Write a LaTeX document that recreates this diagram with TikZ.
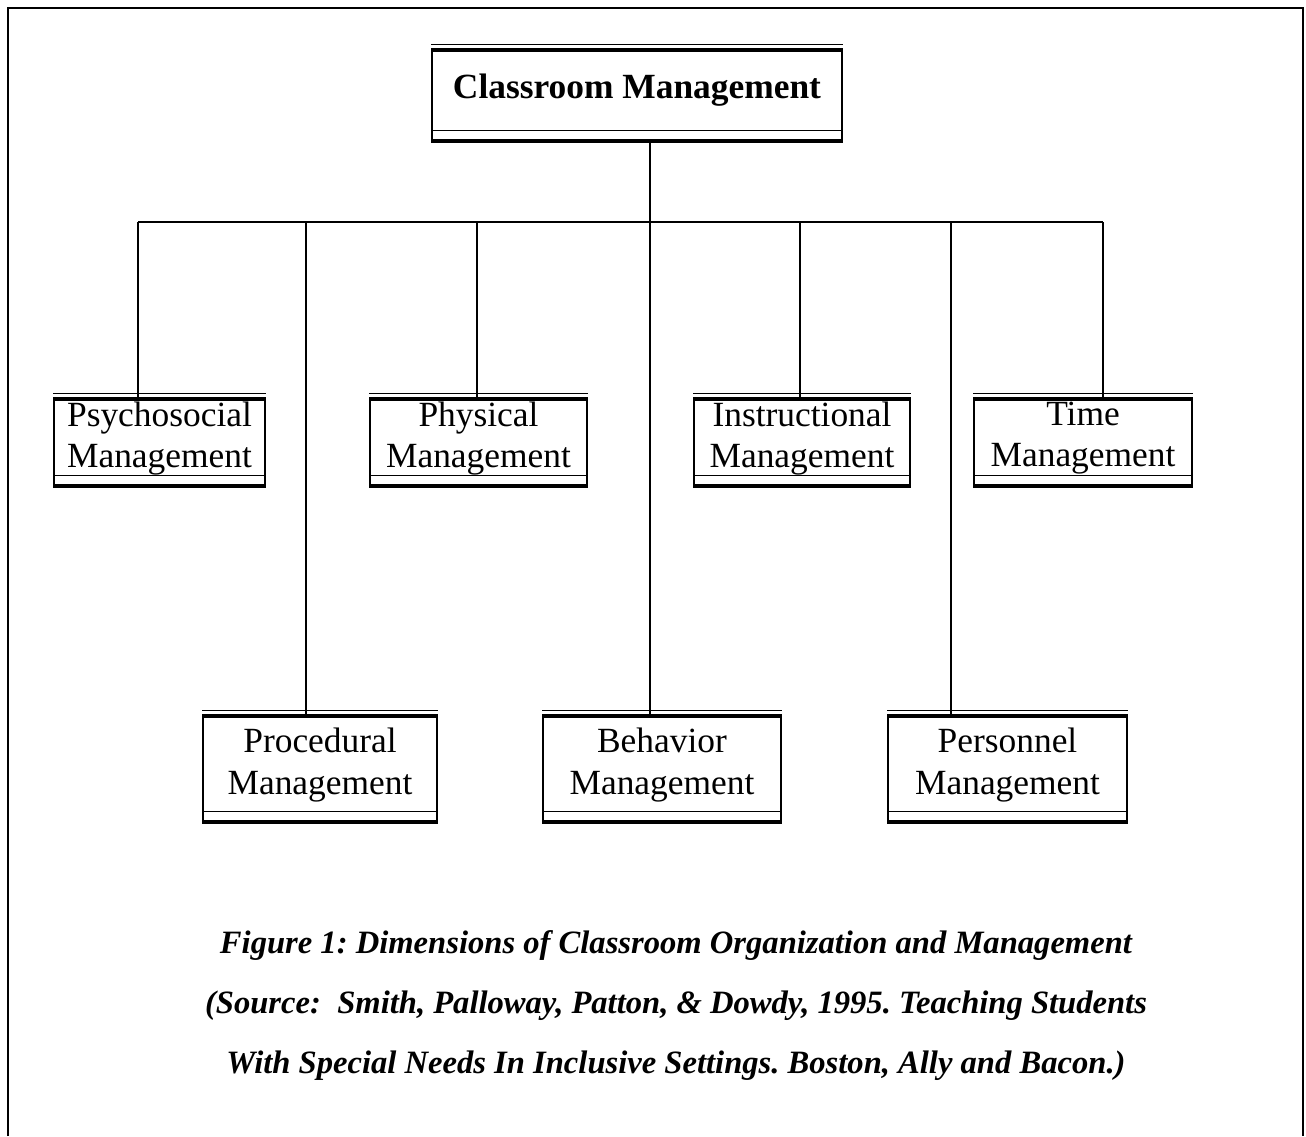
\documentclass[tikz,border=0pt]{standalone}
\usepackage{fontspec}
\setmainfont{Liberation Serif}
\usetikzlibrary{positioning,calc}
\tikzset{
mgbox/.style={rectangle,draw,line width=0.6pt,inner sep=2pt,
  append after command={
    (\tikzlastnode.north west) edge[draw,line width=2pt] (\tikzlastnode.north east)
    (\tikzlastnode.south west) edge[draw,line width=2pt] (\tikzlastnode.south east)
    ([yshift=3pt]\tikzlastnode.north west) edge[draw,line width=0.6pt] ([yshift=3pt]\tikzlastnode.north east)
    ([yshift=5pt]\tikzlastnode.south west) edge[draw,line width=0.6pt] ([yshift=5pt]\tikzlastnode.south east)
  }},
mgtitle/.style={mgbox,font=\fontsize{17.7}{20.75}\selectfont\bfseries,text height=12pt,text depth=8.8pt,minimum width=205pt,minimum height=44.5pt},
mgsub/.style={mgbox,align=center,inner ysep=0pt,font=\fontsize{17.7}{20.75}\selectfont,execute at end node={\rule[-8pt]{0pt}{0pt}}},
mgline/.style={line width=0.8pt},
mgframe/.style={line width=1.2pt},
mgcaption/.style={align=center,font=\fontsize{16.3}{30}\selectfont\bfseries\itshape\frenchspacing}
}
\begin{document}
\begin{tikzpicture}[x=0.5pt,y=-0.5pt]
\useasboundingbox (0,0) rectangle (1306,1136);
\draw[mgframe] (8,1136) -- (8,8) -- (1303,8) -- (1303,1136);
\node[mgtitle] (cm) at (637,95.5) {Classroom Management};
% first row
\node[mgsub,minimum width=105.5pt,minimum height=42.5pt] (psy) at (159.5,442.5) {Psychosocial\\Management};
\node[mgsub,minimum width=108.5pt,minimum height=42.5pt] (phy) at (478.5,442.5) {Physical\\Management};
\node[mgsub,minimum width=108pt,minimum height=42.5pt] (ins) at (802,442.5) {Instructional\\Management};
\node[mgsub,minimum width=109pt,minimum height=42.5pt] (tim) at (1083,442.5) {Time\\Management};
% second row
\node[mgsub,minimum width=117pt,minimum height=52pt] (pro) at (320,769) {Procedural\\Management};
\node[mgsub,minimum width=119pt,minimum height=52pt] (beh) at (662,769) {Behavior\\Management};
\node[mgsub,minimum width=119.5pt,minimum height=52pt] (per) at (1007.5,769) {Personnel\\Management};
% bus
\coordinate (b1) at (138,222);
\coordinate (b2) at (306,222);
\coordinate (b3) at (477,222);
\coordinate (b4) at (650,222);
\coordinate (b5) at (800,222);
\coordinate (b6) at (951,222);
\coordinate (b7) at (1103,222);
\draw[mgline] (b4 |- cm.south) -- (b4);
\draw[mgline] (b1) -- (b7);
\draw[mgline] (b1) -- (b1 |- psy.north);
\draw[mgline] (b2) -- (b2 |- pro.north);
\draw[mgline] (b3) -- (b3 |- phy.north);
\draw[mgline] (b4) -- (b4 |- beh.north);
\draw[mgline] (b5) -- (b5 |- ins.north);
\draw[mgline] (b6) -- (b6 |- per.north);
\draw[mgline] (b7) -- (b7 |- tim.north);
\node[mgcaption] (cap) at (676,1006) {Figure 1: Dimensions of Classroom Organization and Management\\(Source:~ Smith, Palloway, Patton, \& Dowdy, 1995. Teaching Students\\With Special Needs In Inclusive Settings. Boston, Ally and Bacon.)};
\end{tikzpicture}
\end{document}
